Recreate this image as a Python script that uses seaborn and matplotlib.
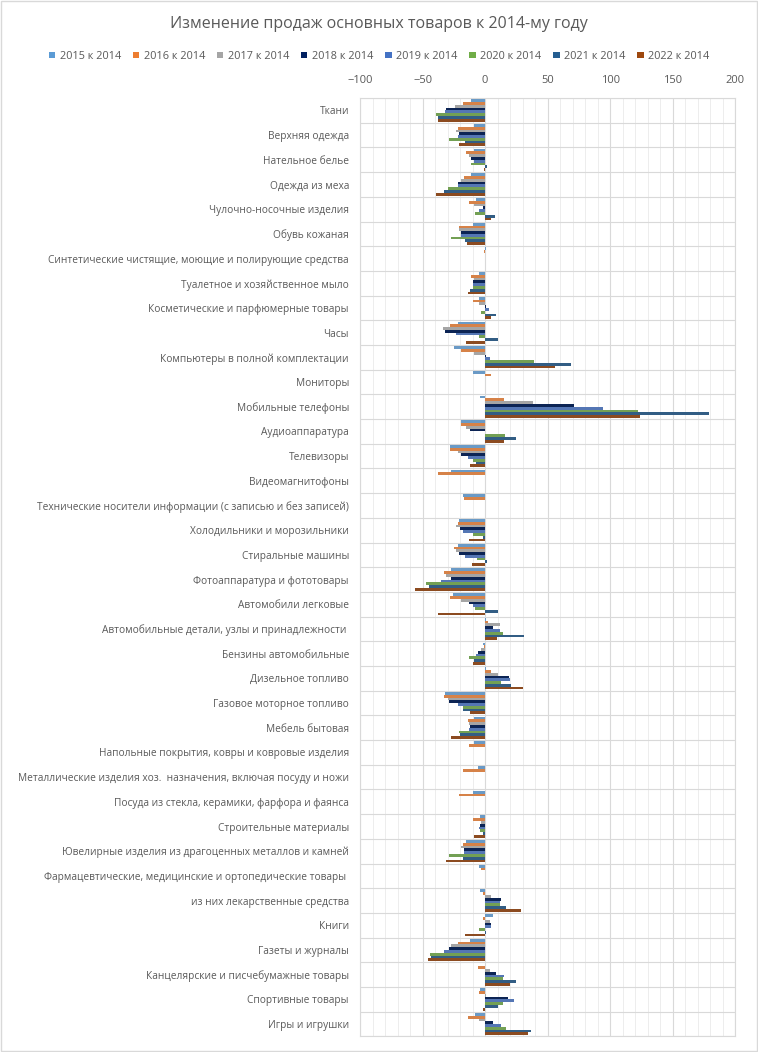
import numpy as np
import pandas as pd
import matplotlib
matplotlib.use("Agg")
import matplotlib.pyplot as plt
import seaborn as sns
from matplotlib.ticker import MultipleLocator, FixedLocator
from matplotlib.patches import Rectangle, Patch

categories = [
    "Ткани", "Верхняя одежда", "Нательное белье", "Одежда из меха",
    "Чулочно-носочные изделия", "Обувь кожаная",
    "Синтетические чистящие, моющие и полирующие средства",
    "Туалетное и хозяйственное мыло", "Косметические и парфюмерные товары",
    "Часы", "Компьютеры в полной комплектации", "Мониторы",
    "Мобильные телефоны", "Аудиоаппаратура", "Телевизоры", "Видеомагнитофоны",
    "Технические носители информации (с записью и без записей)",
    "Холодильники и морозильники", "Стиральные машины",
    "Фотоаппаратура и фототовары", "Автомобили легковые",
    "Автомобильные детали, узлы и принадлежности ", "Бензины автомобильные",
    "Дизельное топливо", "Газовое моторное топливо", "Мебель бытовая",
    "Напольные покрытия, ковры и ковровые изделия",
    "Металлические изделия хоз.  назначения, включая посуду и ножи",
    "Посуда из стекла, керамики, фарфора и фаянса", "Строительные материалы",
    "Ювелирные изделия из драгоценных металлов и камней",
    "Фармацевтические, медицинские и ортопедические товары ",
    "из них лекарственные средства", "Книги", "Газеты и журналы",
    "Канцелярские и писчебумажные товары", "Спортивные товары",
    "Игры и игрушки",
]

years = ["2015 к 2014", "2016 к 2014", "2017 к 2014", "2018 к 2014",
         "2019 к 2014", "2020 к 2014", "2021 к 2014", "2022 к 2014"]

v2015 = [-11, -9, -9, -11, -7, -10, 1, -5, -5, -22, -25, -10, -4, -19, -28, -27, -18, -21, -22,
         -27, -26, 1, -2, 1, -32, -9, -8.5, -6, -10, -4, -15, -5, -4, 6, -12, 0, -4, -8]
v2016 = [-18, -22, -15, -17, -12.5, -20.5, -1, -11, -10, -28, -19, 5, 15, -19, -28, -38, -16.5,
         -22, -25, -33, -28, 2.5, -1, 5, -32.5, -14, -13, -18, -21, -10, -18, -3, -2, -2, -22,
         -6, -5, -14]
v2017 = [-24, -23, -13, -19, -9, -20.5, 0, -9, -5, -34, -8.5, 0, 38, -15, -22, 0, 0, -23, -23.5,
         -31, -19, 12, -3, 10, -30, -13, 0, 0, 0, -3, -19, 0, 5, 4, -27, 4, 1, -5]
v2018 = [-31, -21, -11, -22, -1.5, -19, 0, -10, 1, -32, 1, 0, 71, -12, -19, 0, 0, -20, -21, -27,
         -13, 6, -5.5, 19, -29, -12, 0, 0, 0, -4, -17, 0, 13, 5, -29, 9, 18, 6]
v2019 = [-32, -22, -8.5, -22, -4.5, -19, 0, -10, 3, -23.5, 4, 0, 94, 0, -14, 0, 0, -18, -16,
         -35, -10, 12, -7.5, 20, -22, -12.5, 0, 0, 0, -5, -17, 0, 12, 5, -32.5, 15, 23, 13]
v2020 = [-39.5, -29, -11, -30, -8, -27, 0, -10, -3, -5, 39, 0, 122, 16, -10, 0, 0, -10, -6.5,
         -47, -8, 14, -13, 13, -18, -20.5, 0, 0, 0, -4, -28.5, 0, 12, -5, -44, 14, 14, 17]
v2021 = [-38, -16, 1.5, -33, 7.5, -16, 0, -12, 9, 10, 69, 0, 179, 25, -7.5, 0, 0, -1.5, 1.5,
         -45, 10, 31, -9, 21, -18, -20, 0, 0, 0, -2, -18, 0, 17, 1, -43, 24.5, 10, 37]
v2022 = [-38, -21, -1, -39, 5, -14.5, 0, -14, 5, -15, 56, 0, 124, 15, -12, 0, 0, -13, -10.5,
         -56, -38, 9.5, -9.5, 30, -12, -27, 0, 0, 0, -8.5, -31, 0, 29, -16, -46, 20, -2, 34]

series = [v2015, v2016, v2017, v2018, v2019, v2020, v2021, v2022]
colors = ["#5B9BD5", "#ED7D31", "#A5A5A5", "#002060", "#4472C4", "#70AD47", "#255E91", "#9E480E"]

rows = []
for yr, vals in zip(years, series):
    for cat, v in zip(categories, vals):
        rows.append({"cat": cat, "year": yr, "value": v})
df = pd.DataFrame(rows)

sns.set_theme(style="white")
plt.rcParams["font.family"] = ["Open Sans", "DejaVu Sans"]
TXT = "#595959"

fig = plt.figure(figsize=(7.58, 10.52), dpi=100)
ax = fig.add_axes([0.475, 0.0148, 0.495, 0.892])

sns.barplot(data=df, y="cat", x="value", hue="year", order=categories, hue_order=years,
            palette=colors, orient="h", width=0.9, linewidth=0, errorbar=None,
            legend=False, ax=ax, zorder=3)

ax.set_xlim(-100, 200)
ax.set_ylim(len(categories) - 0.5, -0.5)
ax.xaxis.tick_top()
ax.xaxis.set_major_locator(MultipleLocator(50))
ax.xaxis.set_minor_locator(MultipleLocator(10))
ax.yaxis.set_minor_locator(FixedLocator(np.arange(-0.5, len(categories), 1)))
ax.grid(True, axis="x", which="major", color="#D9D9D9", lw=0.8, zorder=0)
ax.grid(True, axis="x", which="minor", color="#EDEDED", lw=0.7, zorder=0)
ax.grid(True, axis="y", which="minor", color="#D9D9D9", lw=0.8, zorder=0)
ax.set_axisbelow(True)
ax.tick_params(axis="x", which="both", length=0, labelsize=8, labelcolor=TXT, pad=9)
ax.tick_params(axis="y", which="both", length=0, labelsize=7.3, labelcolor=TXT, pad=8)
ax.set_xlabel("")
ax.set_ylabel("")
for s in ax.spines.values():
    s.set_color("#D9D9D9")
    s.set_linewidth(0.8)

fig.suptitle("Изменение продаж основных товаров к 2014-му году", y=0.985,
             fontsize=11.5, color=TXT)

handles = [Patch(facecolor=c, edgecolor="none") for c in colors]
fig.legend(handles, years, loc="center", bbox_to_anchor=(0.5, 0.9465), ncol=8,
           frameon=False, fontsize=7.8, labelcolor=TXT, handlelength=0.6,
           handleheight=0.6, handletextpad=0.4, columnspacing=1.1)

fig.add_artist(Rectangle((0.001, 0.001), 0.998, 0.998, transform=fig.transFigure,
                         fill=False, edgecolor="#D9D9D9", lw=1))

fig.savefig("out.png", dpi=100)
